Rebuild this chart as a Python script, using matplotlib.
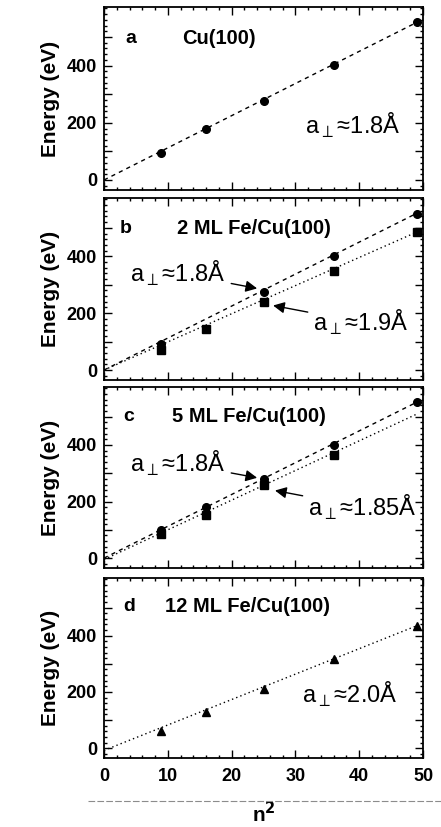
import matplotlib
matplotlib.use('Agg')
import matplotlib.pyplot as plt
from matplotlib.ticker import MultipleLocator, FixedFormatter, FixedLocator
from matplotlib.lines import Line2D

plt.rcParams['font.family'] = ['Liberation Sans', 'DejaVu Sans']

# squared order n^2 for the measured peaks
n2 = [9, 16, 25, 36, 49]

# panel a: Cu(100)
cu_E = [93, 177, 276, 402, 551]

# panel b: 2 ML Fe/Cu(100)
b_circ_n2 = [9, 25, 36, 49]
b_circ_E = [91, 274, 400, 550]
b_sq_n2 = [9, 16, 25, 36, 49]
b_sq_E = [72, 146, 241, 350, 484]

# panel c: 5 ML Fe/Cu(100)
c_circ_n2 = [9, 16, 25, 36, 49]
c_circ_E = [101, 180, 279, 400, 551]
c_sq_n2 = [9, 16, 25, 36]
c_sq_E = [85, 154, 259, 363]

# panel d: 12 ML Fe/Cu(100)
d_tri_E = [62, 127, 212, 318, 435]

# fitted lines (n^2 endpoints, energies)
fit_x = [0, 49]
fit_18 = [0, 551]
fit_19 = [0, 485]
fit_185 = [-5, 509]
fit_20 = [-8, 435]

fig = plt.figure(figsize=(4.41, 8.27), dpi=100)

left, width = 104 / 441, 319 / 441
rows = [(7, 190), (198, 380), (387, 568), (578, 758)]
axes = []
for top, bot in rows:
    ax = fig.add_axes([left, (827 - bot) / 827, width, (bot - top) / 827])
    axes.append(ax)

for i, ax in enumerate(axes):
    ax.set_xlim(0, 50)
    ax.set_ylim(-35, 605)
    ax.xaxis.set_major_locator(MultipleLocator(10))
    ax.xaxis.set_minor_locator(MultipleLocator(2))
    ax.yaxis.set_major_locator(FixedLocator([0, 100, 200, 300, 400, 500]))
    ax.yaxis.set_major_formatter(FixedFormatter(['0', '', '200', '', '400', '']))
    ax.yaxis.set_minor_locator(MultipleLocator(20))
    ax.tick_params(which='both', direction='in', top=True, right=True, width=1.0)
    ax.tick_params(which='major', length=6)
    ax.tick_params(which='minor', length=2.5)
    ax.tick_params(axis='y', labelsize=13, pad=5)
    ax.tick_params(axis='x', labelsize=13, pad=7)
    for lab in ax.get_yticklabels() + ax.get_xticklabels():
        lab.set_fontweight('bold')
    for s in ax.spines.values():
        s.set_linewidth(1.3)
    ax.set_ylabel('Energy (eV)', fontsize=15, fontweight='bold', labelpad=5)
    if i < 3:
        ax.tick_params(axis='x', labelbottom=False)

dash = (0, (3, 3))
dot = (0, (1, 2.2))
perp = 'a$_{\\perp}$≈'
arrow = dict(arrowstyle='-|>', color='k', lw=1, shrinkA=2, shrinkB=0)

# a
ax = axes[0]
ax.plot(fit_x, fit_18, color='k', lw=1, linestyle=dash)
ax.plot(n2, cu_E, 'o', color='k', ms=5.5)
ax.text(3.3, 494, 'a', fontsize=14, fontweight='bold', va='center')
ax.text(12.2, 494, 'Cu(100)', fontsize=14.5, fontweight='bold', va='center')
ax.text(31.5, 191, perp + '1.8Å', fontsize=17, va='center')

# b
ax = axes[1]
ax.plot(fit_x, fit_18, color='k', lw=1, linestyle=dash)
ax.plot(fit_x, fit_19, color='k', lw=1, linestyle=dot)
ax.plot(b_circ_n2, b_circ_E, 'o', color='k', ms=5.5)
ax.plot(b_sq_n2, b_sq_E, 's', color='k', ms=5.5)
ax.text(2.5, 497, 'b', fontsize=14, fontweight='bold', va='center')
ax.text(11.4, 497, '2 ML Fe/Cu(100)', fontsize=14.5, fontweight='bold', va='center')
ax.annotate(perp + '1.8Å', xy=(24, 287), xytext=(4.1, 340), fontsize=17, va='center',
            arrowprops=arrow)
ax.annotate(perp + '1.9Å', xy=(26.5, 227), xytext=(32.8, 168), fontsize=17, va='center',
            arrowprops=arrow)

# c
ax = axes[2]
ax.plot(fit_x, fit_18, color='k', lw=1, linestyle=dash)
ax.plot(fit_x, fit_185, color='k', lw=1, linestyle=dot)
ax.plot(c_circ_n2, c_circ_E, 'o', color='k', ms=5.5)
ax.plot(c_sq_n2, c_sq_E, 's', color='k', ms=5.5)
ax.text(3.0, 500, 'c', fontsize=14, fontweight='bold', va='center')
ax.text(10.6, 500, '5 ML Fe/Cu(100)', fontsize=14.5, fontweight='bold', va='center')
ax.annotate(perp + '1.8Å', xy=(24, 284), xytext=(4.1, 336), fontsize=17, va='center',
            arrowprops=arrow)
ax.annotate(perp + '1.85Å', xy=(26.8, 239), xytext=(32.0, 180), fontsize=17, va='center',
            arrowprops=arrow)

# d
ax = axes[3]
ax.plot(fit_x, fit_20, color='k', lw=1, linestyle=dot)
ax.plot(n2, d_tri_E, '^', color='k', ms=5.5)
ax.text(3.0, 502, 'd', fontsize=14, fontweight='bold', va='center')
ax.text(9.6, 502, '12 ML Fe/Cu(100)', fontsize=14.5, fontweight='bold', va='center')
ax.text(31, 192, perp + '2.0Å', fontsize=17, va='center')
ax.set_xlabel('n$^\\mathbf{2}$', fontsize=15, fontweight='bold', labelpad=12)

# faint scan line above the x label
fig.add_artist(Line2D([0.2, 1.0], [0.031, 0.031], color='0.55', lw=0.8,
                      linestyle=(0, (6, 2))))

fig.savefig('out.png', dpi=100)
